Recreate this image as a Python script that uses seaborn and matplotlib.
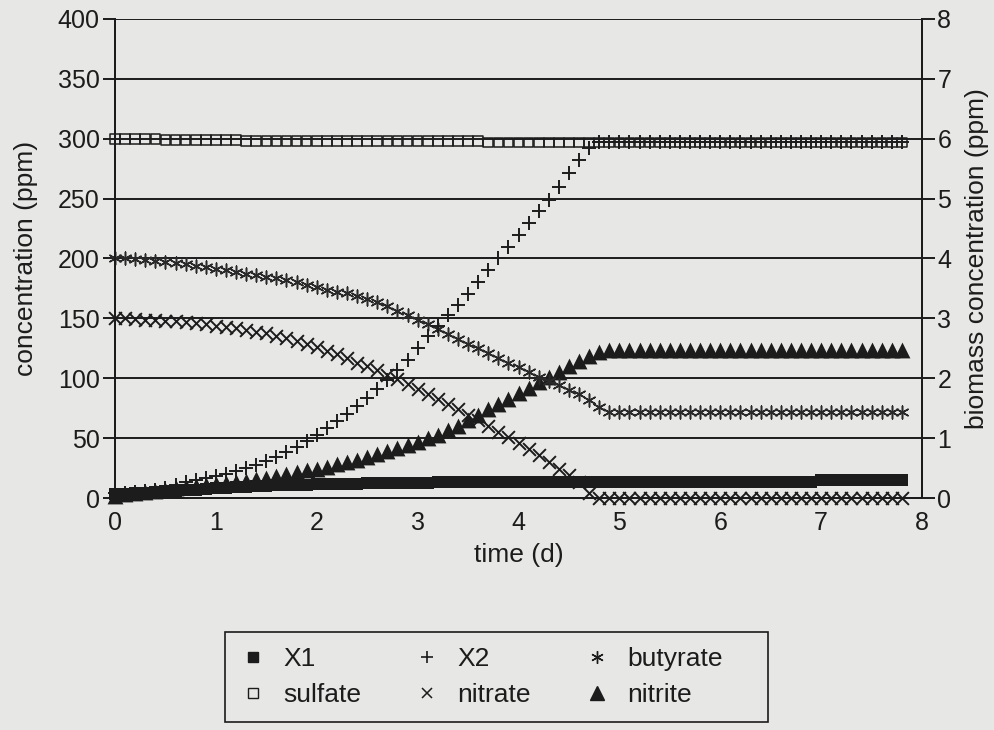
import numpy as np
import seaborn as sns
import matplotlib.pyplot as plt
from matplotlib.lines import Line2D
from matplotlib.patches import Rectangle

# time grid (d)
time = np.round(np.arange(0, 7.85, 0.1), 1)

# left axis (ppm)
sulfate = [300] * 5 + [299] * 8 + [298] * 24 + [297] * 42
butyrate = [200, 200, 199.5, 199, 198, 197, 196, 195, 194, 192.5,
            191, 190, 188.5, 187, 186, 184.5, 183.5, 182, 180, 178,
            176, 174, 172, 171, 169, 166.5, 163.5, 160, 156.5, 153,
            149, 145, 141, 137, 133, 129, 125, 121, 117, 113,
            109, 105, 101, 97.5, 94, 90.5, 87, 82, 76] + [72] * 30
nitrate = [150, 150, 149.5, 149, 148.5, 148, 147.5, 147, 146, 145,
           144, 143, 142, 140.5, 139, 137.5, 135.5, 133.5, 131, 128.5,
           126, 123, 120, 116.5, 113, 110, 106.5, 103, 99, 95,
           91, 87, 83, 78.5, 74, 69.5, 65, 60, 55.5, 51,
           46, 41, 35.5, 30, 24.5, 19, 13.5, 4] + [0] * 31
nitrite = [2, 3, 4, 5, 6, 7, 8, 9, 10, 10.5,
           11.5, 12.5, 13.5, 14.5, 15.5, 17, 18.5, 20, 21.5, 23,
           24.5, 26, 28, 30, 32, 34, 36.5, 39, 41.5, 44,
           47, 50, 53, 56.5, 60, 65, 69.5, 74, 78.5, 83,
           87.5, 92, 96.5, 101, 105.5, 110, 114.5, 118.5, 122] + [124] * 30

# right axis (biomass, ppm)
x1 = [0.06, 0.07, 0.08, 0.09, 0.10, 0.11, 0.12, 0.13, 0.14, 0.15,
      0.16, 0.17, 0.18, 0.19, 0.20, 0.205, 0.21, 0.215, 0.22, 0.225,
      0.23, 0.233, 0.236, 0.239, 0.242, 0.245, 0.248, 0.25, 0.252, 0.254,
      0.256, 0.258, 0.26, 0.262, 0.264, 0.265, 0.266, 0.267, 0.268, 0.269] + [0.27] * 30 + [0.30] * 9
x2 = [0.08, 0.09, 0.10, 0.12, 0.14, 0.17, 0.21, 0.26, 0.30, 0.33,
      0.36, 0.40, 0.45, 0.50, 0.55, 0.61, 0.68, 0.76, 0.86, 0.96,
      1.06, 1.17, 1.28, 1.40, 1.53, 1.67, 1.82, 1.97, 2.13, 2.30,
      2.50, 2.70, 2.88, 3.05, 3.22, 3.40, 3.60, 3.80, 4.00, 4.20,
      4.40, 4.60, 4.80, 4.98, 5.20, 5.42, 5.64, 5.84, 5.94] + [5.95] * 30

# legend entries, column by column
labels = ["X1", "sulfate", "X2", "nitrate", "butyrate", "nitrite"]

bg = "#e7e7e5"
ink = "#1c1c1c"
asterisk = (6, 2, 0)

sns.set_style("white")
plt.rcParams["font.family"] = ["Liberation Sans", "DejaVu Sans"]

fig = plt.figure(figsize=(9.94, 7.30), dpi=100, facecolor=bg)
ax = fig.add_axes([0.1157, 0.3178, 0.8119, 0.6562])
ax.set_facecolor(bg)
ax2 = ax.twinx()

common = dict(clip_on=False, edgecolor=None, legend=False)
sns.scatterplot(x=time, y=x1, ax=ax2, marker="s", s=80, color=ink, linewidth=0, zorder=3, **common)
sns.scatterplot(x=time, y=nitrite, ax=ax, marker="^", s=130, color=ink, linewidth=0, zorder=3, **common)
sns.scatterplot(x=time, y=nitrate, ax=ax, marker="x", s=85, color=ink, linewidth=1.4, zorder=3, **common)
sns.scatterplot(x=time, y=butyrate, ax=ax, marker=asterisk, s=85, color="#2a2a2a", linewidth=1.1, zorder=3, **common)
sns.scatterplot(x=time, y=x2, ax=ax2, marker="+", s=90, color=ink, linewidth=1.4, zorder=3, **common)
sns.scatterplot(x=time, y=sulfate, ax=ax, marker="s", s=48, color=ink, facecolor="none",
                edgecolor=ink, linewidth=1.1, zorder=3, clip_on=False, legend=False)

ax.set_xlim(0, 8)
ax.set_ylim(0, 400)
ax2.set_ylim(0, 8)
ax.set_xticks(range(0, 9))
ax.set_yticks(range(0, 401, 50))
ax2.set_yticks(range(0, 9))
ax.grid(False)
ax2.grid(False)
for v in range(0, 401, 50):
    ax.axhline(v, color=ink, lw=1.4, zorder=1)

for a in (ax, ax2):
    for side in ("left", "right", "bottom"):
        a.spines[side].set_color(ink)
        a.spines[side].set_linewidth(1.4)
    a.spines["top"].set_visible(False)

ax.tick_params(axis="y", direction="out", length=9, width=1.4, color=ink, labelsize=18, pad=2, labelcolor=ink)
ax.tick_params(axis="x", direction="out", length=6, width=1.4, color=ink, labelsize=18, pad=3, labelcolor=ink)
ax2.tick_params(axis="y", direction="out", length=9, width=1.4, color=ink, labelsize=18, pad=2, labelcolor=ink)

ax.set_xlabel("time (d)", fontsize=19, labelpad=6, color=ink)
ax.set_ylabel("concentration (ppm)", fontsize=19, labelpad=14, color=ink)
ax2.set_ylabel("biomass concentration (ppm)", fontsize=19, labelpad=10, color=ink)

handles = [
    Line2D([], [], ls="None", marker="s", ms=7, color=ink),
    Line2D([], [], ls="None", marker="s", ms=7, mfc="none", mec=ink, mew=1),
    Line2D([], [], ls="None", marker="+", ms=9, color=ink, mew=1.2),
    Line2D([], [], ls="None", marker="x", ms=7, color=ink, mew=1.1),
    Line2D([], [], ls="None", marker=asterisk, ms=9, color=ink, mew=1),
    Line2D([], [], ls="None", marker="^", ms=10, color=ink),
]
# legend box drawn separately so it can be wider than its entries
fig.patches.append(Rectangle((0.2264, 0.011), 0.5463, 0.1233, transform=fig.transFigure,
                             facecolor=bg, edgecolor=ink, linewidth=1.2, zorder=0))
fig.legend(handles, labels, ncol=3, loc="center left", bbox_to_anchor=(0.2264, 0.0726),
           fontsize=19, frameon=False, handlelength=1.0, handletextpad=0.65, columnspacing=2.0,
           labelspacing=0.45, borderpad=0.55, borderaxespad=0, labelcolor=ink)

fig.savefig("out.png", dpi=100, facecolor=bg)
